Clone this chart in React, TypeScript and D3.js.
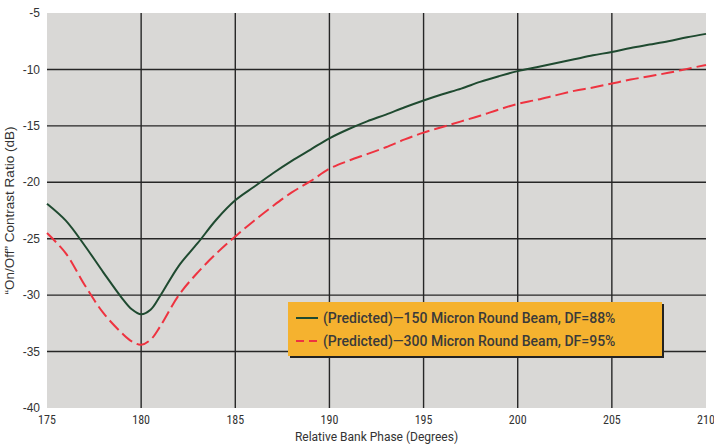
import React from "react";
import * as d3 from "d3";

// relative bank phase in degrees
const phases = [175, 176, 177, 178, 179, 179.5, 180, 180.5, 181, 182, 183, 184, 185, 186, 187, 188, 189, 190, 191, 192, 193, 194, 195, 196, 197, 198, 199, 200, 201, 202, 203, 204, 205, 206, 207, 208, 209, 210];
const beam150 = [-21.9, -23.4, -25.6, -28.0, -30.3, -31.25, -31.7, -31.3, -30.1, -27.4, -25.4, -23.3, -21.6, -20.4, -19.2, -18.1, -17.1, -16.1, -15.3, -14.6, -14.0, -13.35, -12.75, -12.2, -11.7, -11.1, -10.6, -10.15, -9.8, -9.45, -9.1, -8.75, -8.45, -8.1, -7.8, -7.5, -7.15, -6.85];
const beam300 = [-24.5, -26.3, -29.1, -31.6, -33.4, -34.1, -34.4, -33.95, -32.8, -30.0, -28.0, -26.3, -24.8, -23.4, -22.1, -20.9, -19.9, -18.8, -18.1, -17.5, -16.9, -16.2, -15.6, -15.1, -14.6, -14.1, -13.55, -13.05, -12.7, -12.3, -11.9, -11.6, -11.25, -10.9, -10.6, -10.3, -9.95, -9.6];

const xTicks = [175, 180, 185, 190, 195, 200, 205, 210];
const yTicks = [-5, -10, -15, -20, -25, -30, -35, -40];
const legendLabels = [
  "(Predicted)\u2014150 Micron Round Beam, DF=88%",
  "(Predicted)\u2014300 Micron Round Beam, DF=95%",
];

const W = 714;
const H = 447;
const plot = { left: 47, right: 706, top: 13, bottom: 408 };

export default function App() {
  const x = d3.scaleLinear().domain([175, 210]).range([plot.left, plot.right]);
  const y = d3.scaleLinear().domain([-40, -5]).range([plot.bottom, plot.top]);

  const line = d3
    .line<number>()
    .x((_, i) => x(phases[i]))
    .y((d) => y(d))
    .curve(d3.curveCatmullRom);

  const grid = "#262626";
  const green = "#1f4a30";
  const red = "#ee3340";

  return (
    <svg width={W} height={H} style={{ position: "absolute", left: 0, top: 0, background: "#fff" }}>
      <rect x={plot.left} y={plot.top} width={plot.right - plot.left} height={plot.bottom - plot.top} fill="#d9d8d6" />

      {yTicks.slice(1, -1).map((t) => (
        <line key={"h" + t} x1={plot.left} x2={plot.right} y1={y(t)} y2={y(t)} stroke={grid} strokeWidth={1.4} />
      ))}
      {xTicks.slice(1, -1).map((t) => (
        <line key={"v" + t} x1={x(t)} x2={x(t)} y1={plot.top} y2={plot.bottom} stroke={grid} strokeWidth={1.4} />
      ))}

      <path d={line(beam300) || ""} fill="none" stroke={red} strokeWidth={2} strokeDasharray="13 5" />
      <path d={line(beam150) || ""} fill="none" stroke={green} strokeWidth={2} />

      {yTicks.map((t) => (
        <text key={"yl" + t} x={40} y={y(t)} dy="0.35em" textAnchor="end" fontFamily="Liberation Sans, Arial, sans-serif" fontSize={12} fill="#333">
          {t}
        </text>
      ))}
      {xTicks.map((t) => (
        <text key={"xl" + t} x={x(t)} y={424} textAnchor="middle" fontFamily="Roboto, sans-serif" fontSize={12} style={{ fontStretch: "condensed" }} fill="#333">
          {t}
        </text>
      ))}
      <text x={(plot.left + plot.right) / 2} y={441} textAnchor="middle" fontFamily="Roboto, sans-serif" fontSize={12} fill="#333">
        Relative Bank Phase (Degrees)
      </text>
      <text
        transform={`translate(14,${(plot.top + plot.bottom) / 2}) rotate(-90)`}
        textAnchor="middle"
        fontFamily="Liberation Sans, Arial, sans-serif"
        fontSize={13.5}
        fill="#333"
      >
        {"\u201COn/Off\u201D Contrast Ratio (dB)"}
      </text>

      <g>
        <rect x={290} y={304} width={374} height={54} fill="#222" />
        <rect x={288} y={302} width={374} height={54} fill="#f5b22f" />
        {legendLabels.map((lab, i) => (
          <g key={lab} transform={`translate(0,${318 + i * 23})`}>
            <line
              x1={296}
              x2={318}
              y1={0}
              y2={0}
              stroke={i === 0 ? green : red}
              strokeWidth={2}
              strokeDasharray={i === 0 ? undefined : "8 5"}
            />
            <text x={323} y={0} dy="0.35em" fontFamily="Roboto, sans-serif" fontWeight={500} fontSize={14} fill="#3a3a3a">
              {lab}
            </text>
          </g>
        ))}
      </g>
    </svg>
  );
}
